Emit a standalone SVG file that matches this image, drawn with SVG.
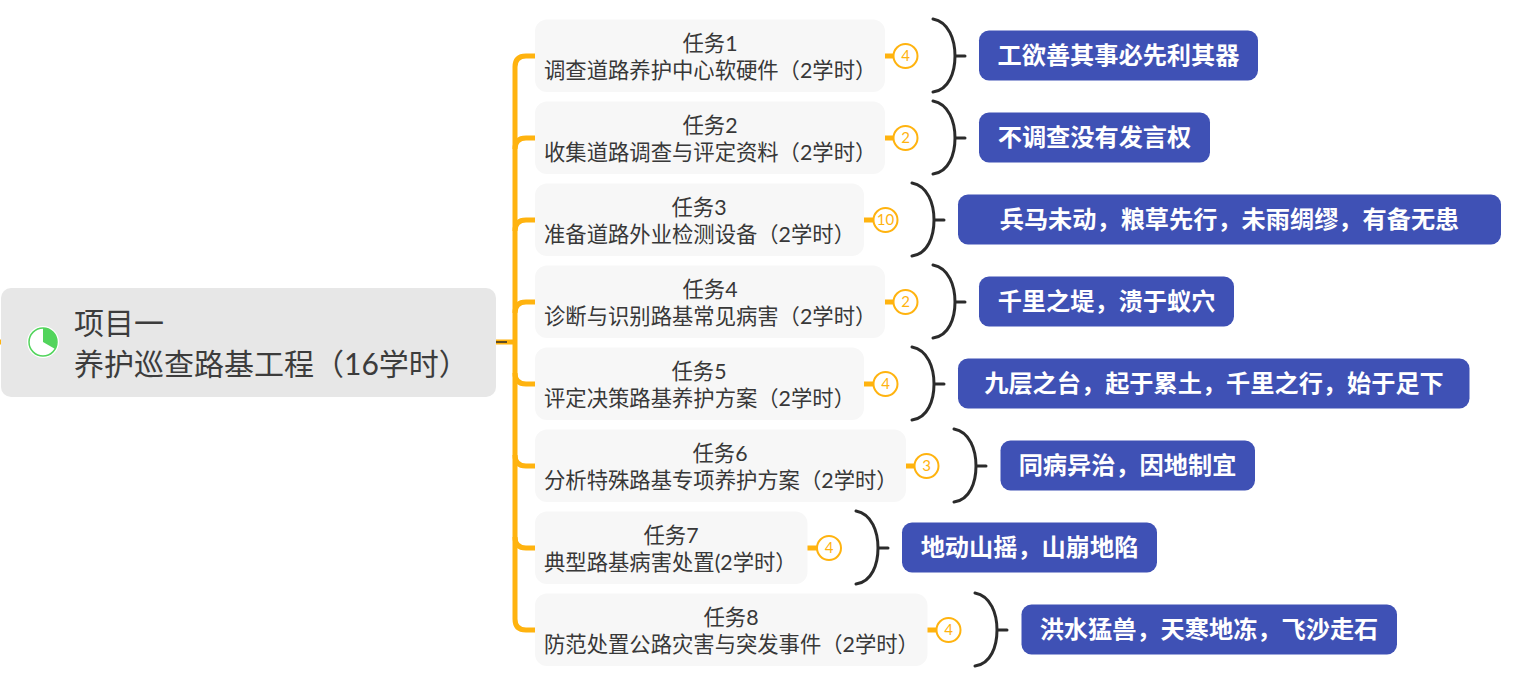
<svg xmlns="http://www.w3.org/2000/svg" width="1516" height="681" viewBox="0 0 1516 681">
<style>
text{font-family:"Lato","Noto Sans CJK SC",sans-serif}
.root{fill:#e7e7e7}
.rt{font-size:30px;fill:#3c3c3c}
.task{fill:#f7f7f7}
.tt{font-size:21.33px;fill:#383838}
.c{text-anchor:middle}
.tag{fill:#3f51b5}
.lt{font-size:24.2px;font-weight:700;fill:#fff;text-anchor:middle}
.trunk{fill:none;stroke:#ffb30f;stroke-width:5}
.stub{fill:none;stroke:#ffb30f;stroke-width:5}
.brace{fill:none;stroke:#2b2b2b;stroke-width:3;stroke-linecap:round}
.badge{fill:#fff;stroke:#ffb30f;stroke-width:2}
.bt{font-size:15px;fill:#ffb30f;text-anchor:middle}
</style>
<defs>
<path id="br" class="brace" d="M0 -37C16 -34 22 -16 22 0C22 16 16 34 0 36M22 0H32"/>
</defs>
<g id="connectors">
<path class="stub" d="M0 342H2"/>
<path class="stub" d="M496 342H515"/>
<path d="M496 342H507" fill="none" stroke="#2b2b2b" stroke-width="1.5"/>
<path class="trunk" d="M535 56H526Q515 56 515 67V619Q515 630 526 630H535"/>
<path class="trunk" d="M535 138H526Q515 138 515 149M535 220H526Q515 220 515 231M535 302H526Q515 302 515 313M515 373Q515 384 526 384H535M515 455Q515 466 526 466H535M515 537Q515 548 526 548H535"/>
<path class="stub" d="M885 56H896M885 138H896M864 220H875M885 302H896M864 384H875M906 466H917M807 548H818M927 630H938"/>
<use href="#br" x="933" y="56"/>
<use href="#br" x="933" y="138"/>
<use href="#br" x="912" y="220"/>
<use href="#br" x="933" y="302"/>
<use href="#br" x="912" y="384"/>
<use href="#br" x="954" y="466"/>
<use href="#br" x="856" y="548"/>
<use href="#br" x="975" y="630"/>
</g>
<g id="root">
<rect class="root" x="1" y="288" width="495" height="109" rx="10"/>
<circle cx="43" cy="342" r="16" fill="#fff"/>
<circle cx="43" cy="342" r="14" fill="#fff" stroke="#52d45c" stroke-width="1.5"/>
<path d="M43 342V328A14 14 0 0 1 55.100 349Z" fill="#52d45c"/>
<text class="rt" x="74" y="333.500">项目一</text>
<text class="rt" x="74" y="374.500">养护巡查路基工程（16学时）</text>
</g>
<g id="task1"><rect class="task" x="535" y="19.500" width="350" height="72.500" rx="12"/><text class="tt c" x="710" y="50.500">任务1</text><text class="tt" x="544" y="77.500">调查道路养护中心软硬件（2学时）</text></g>
<g id="task2"><rect class="task" x="535" y="101.500" width="350" height="72.500" rx="12"/><text class="tt c" x="710" y="132.500">任务2</text><text class="tt" x="544" y="159.500">收集道路调查与评定资料（2学时）</text></g>
<g id="task3"><rect class="task" x="535" y="183.500" width="329" height="72.500" rx="12"/><text class="tt c" x="699" y="214.500">任务3</text><text class="tt" x="544" y="241.500">准备道路外业检测设备（2学时）</text></g>
<g id="task4"><rect class="task" x="535" y="265.500" width="350" height="72.500" rx="12"/><text class="tt c" x="710" y="296.500">任务4</text><text class="tt" x="544" y="323.500">诊断与识别路基常见病害（2学时）</text></g>
<g id="task5"><rect class="task" x="535" y="347.500" width="329" height="72.500" rx="12"/><text class="tt c" x="699" y="378.500">任务5</text><text class="tt" x="544" y="405.500">评定决策路基养护方案（2学时）</text></g>
<g id="task6"><rect class="task" x="535" y="429.500" width="371" height="72.500" rx="12"/><text class="tt c" x="720" y="460.500">任务6</text><text class="tt" x="544" y="487.500">分析特殊路基专项养护方案（2学时）</text></g>
<g id="task7"><rect class="task" x="535" y="511.500" width="272.500" height="72.500" rx="12"/><text class="tt c" x="671" y="542.500">任务7</text><text class="tt" x="544" y="569.500">典型路基病害处置(2学时）</text></g>
<g id="task8"><rect class="task" x="535" y="593.500" width="392.500" height="72.500" rx="12"/><text class="tt c" x="731" y="624.500">任务8</text><text class="tt" x="544" y="651.500">防范处置公路灾害与突发事件（2学时）</text></g>
<g id="badge1"><circle class="badge" cx="905.500" cy="56" r="12"/><text class="bt" x="905.500" y="61">4</text></g>
<g id="badge2"><circle class="badge" cx="905.500" cy="138" r="12"/><text class="bt" x="905.500" y="143">2</text></g>
<g id="badge3"><circle class="badge" cx="885.500" cy="220" r="12"/><text class="bt" x="885.500" y="225">10</text></g>
<g id="badge4"><circle class="badge" cx="905.500" cy="302" r="12"/><text class="bt" x="905.500" y="307">2</text></g>
<g id="badge5"><circle class="badge" cx="885.500" cy="384" r="12"/><text class="bt" x="885.500" y="389">4</text></g>
<g id="badge6"><circle class="badge" cx="926.500" cy="466" r="12"/><text class="bt" x="926.500" y="471">3</text></g>
<g id="badge7"><circle class="badge" cx="829" cy="548" r="12"/><text class="bt" x="829" y="553">4</text></g>
<g id="badge8"><circle class="badge" cx="948.500" cy="630" r="12"/><text class="bt" x="948.500" y="635">4</text></g>
<g id="tag1"><rect class="tag" x="979" y="30.500" width="279" height="50" rx="10"/><text class="lt" x="1118.500" y="64">工欲善其事必先利其器</text></g>
<g id="tag2"><rect class="tag" x="979" y="112.500" width="231" height="50" rx="10"/><text class="lt" x="1094.500" y="146">不调查没有发言权</text></g>
<g id="tag3"><rect class="tag" x="958" y="194.500" width="543" height="50" rx="10"/><text class="lt" x="1229.500" y="228">兵马未动，粮草先行，未雨绸缪，有备无患</text></g>
<g id="tag4"><rect class="tag" x="979" y="276.500" width="255" height="50" rx="10"/><text class="lt" x="1106.500" y="310">千里之堤，溃于蚁穴</text></g>
<g id="tag5"><rect class="tag" x="958" y="358.500" width="511.500" height="50" rx="10"/><text class="lt" x="1214" y="392">九层之台，起于累土，千里之行，始于足下</text></g>
<g id="tag6"><rect class="tag" x="1000.500" y="440.500" width="254.500" height="50" rx="10"/><text class="lt" x="1127.500" y="474">同病异治，因地制宜</text></g>
<g id="tag7"><rect class="tag" x="902" y="522.500" width="255" height="50" rx="10"/><text class="lt" x="1029.500" y="556">地动山摇，山崩地陷</text></g>
<g id="tag8"><rect class="tag" x="1021.500" y="604.500" width="375.500" height="50" rx="10"/><text class="lt" x="1209" y="638">洪水猛兽，天寒地冻，飞沙走石</text></g>
</svg>
